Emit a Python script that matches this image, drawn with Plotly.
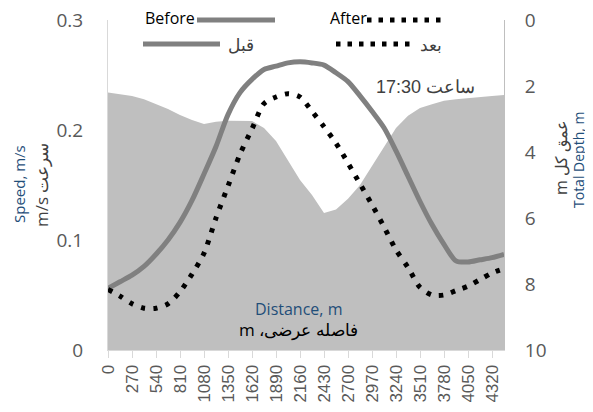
import plotly.graph_objects as go

# ---------------- data ----------------
distance = [0, 135, 270, 405, 540, 675, 810, 945, 1080, 1215, 1350, 1485, 1620, 1755,
            1890, 2025, 2160, 2295, 2430, 2565, 2700, 2835, 2970, 3105, 3240, 3375,
            3510, 3645, 3780, 3915, 4050, 4185, 4320, 4455]
tick_labels = [0, 270, 540, 810, 1080, 1350, 1620, 1890, 2160, 2430, 2700, 2970,
               3240, 3510, 3780, 4050, 4320]

speed_before = [0.056, 0.062, 0.068, 0.076, 0.087, 0.100, 0.116, 0.136, 0.160, 0.185,
                0.214, 0.234, 0.246, 0.255, 0.258, 0.261, 0.262, 0.261, 0.259, 0.252,
                0.244, 0.231, 0.217, 0.202, 0.181, 0.158, 0.135, 0.114, 0.096, 0.081,
                0.080, 0.082, 0.084, 0.087]
speed_after = [0.055, 0.049, 0.042, 0.038, 0.038, 0.042, 0.053, 0.069, 0.088, 0.120,
               0.149, 0.178, 0.201, 0.224, 0.230, 0.233, 0.230, 0.217, 0.203, 0.188,
               0.170, 0.151, 0.132, 0.112, 0.091, 0.075, 0.057, 0.050, 0.050, 0.054,
               0.058, 0.064, 0.070, 0.074]
total_depth = [2.20, 2.24, 2.30, 2.40, 2.55, 2.70, 2.88, 3.03, 3.15, 3.08, 3.05, 3.05,
               3.06, 3.27, 3.67, 4.26, 4.85, 5.30, 5.85, 5.74, 5.42, 5.00, 4.42, 3.85,
               3.27, 2.90, 2.67, 2.55, 2.45, 2.40, 2.36, 2.33, 2.30, 2.27]
depth_bottom = [10] * len(distance)   # axis floor for the area fill

speed_ticks = [0, 0.1, 0.2, 0.3]
speed_ticktext = ["0", "0.1", "0.2", "0.3"]
depth_ticks = [0, 2, 4, 6, 8, 10]

# ---------------- layout helpers ----------------
OFF = 8                      # page body margin
W, H = 593 - OFF, 412 - OFF
PL, PR, PT, PB = 108, 504, 20, 350   # plot box in window pixels
ML, MR, MT, MB = PL - OFF, 593 - PR, PT - OFF, 412 - PB
PW, PH = PR - PL, PB - PT


def px(x):
    return (x - PL) / PW


def py(y):
    return (PB - y) / PH


RLE, PDF = "\u202B", "\u202C"
GRAY_TXT = "#595959"
BLUE_TXT = "#1F4E79"
CAL = "Open Sans, Lato, sans-serif"
ARI = "Liberation Sans, Arial, sans-serif"

fig = go.Figure()

# depth area on primary (right) axis so speed lines draw above it
fig.add_trace(go.Scatter(x=distance, y=depth_bottom, yaxis="y", mode="lines",
                         line=dict(width=0), hoverinfo="skip", showlegend=False))
fig.add_trace(go.Scatter(x=distance, y=total_depth, yaxis="y", mode="lines",
                         line=dict(width=0, color="#BFBFBF"), fill="tonexty",
                         fillcolor="#BFBFBF", showlegend=False))
fig.add_trace(go.Scatter(x=distance, y=speed_before, yaxis="y2", mode="lines",
                         line=dict(color="#808080", width=5, shape="spline", smoothing=0.8),
                         showlegend=False))
fig.add_trace(go.Scatter(x=distance, y=speed_after, yaxis="y2", mode="lines",
                         line=dict(color="#000000", width=5, shape="spline", smoothing=0.8,
                                   dash="4.5px,8px"),
                         showlegend=False))

annotations = [
    dict(text="Speed, m/s", x=px(19), y=py(184), textangle=-90,
         font=dict(family=CAL, size=15, color=BLUE_TXT)),
    dict(text=RLE + "سرعت m/s" + PDF, x=px(41), y=py(185), textangle=-90,
         font=dict(family=CAL, size=17, color="#404040")),
    dict(text=RLE + "عمق کل m" + PDF, x=px(561), y=py(158), textangle=-90,
         font=dict(family=CAL, size=16, color="#404040")),
    dict(text="Total Depth, m", x=px(579), y=py(160), textangle=-90,
         font=dict(family=CAL, size=14, color=BLUE_TXT)),
    dict(text="Distance, m", x=px(298), y=py(309),
         font=dict(family=CAL, size=16, color=BLUE_TXT)),
    dict(text=RLE + "فاصله عرضی، m" + PDF, x=px(298), y=py(329),
         font=dict(family=CAL, size=17, color="#000000")),
    dict(text=RLE + "ساعت 17:30" + PDF, x=px(425), y=py(87),
         font=dict(family=ARI, size=18, color="#404040")),
    # legend texts
    dict(text="Before", x=px(143), y=py(18), xanchor="left",
         font=dict(family=CAL, size=16, color="#000000")),
    dict(text="قبل", x=px(226), y=py(44), xanchor="left",
         font=dict(family=CAL, size=17, color="#404040")),
    dict(text="After", x=px(328), y=py(18), xanchor="left",
         font=dict(family=CAL, size=16, color="#000000")),
    dict(text="بعد", x=px(418), y=py(44), xanchor="left",
         font=dict(family=CAL, size=17, color="#404040")),
]
for a in annotations:
    a.setdefault("xanchor", "center")
    a.update(xref="paper", yref="paper", showarrow=False, yanchor="middle")

shapes = [
    dict(type="line", xref="paper", yref="paper", x0=px(197), x1=px(275), y0=py(20), y1=py(20),
         line=dict(color="#808080", width=5)),
    dict(type="line", xref="paper", yref="paper", x0=px(143), x1=px(220), y0=py(44), y1=py(44),
         line=dict(color="#808080", width=5)),
    dict(type="line", xref="paper", yref="paper", x0=px(367), x1=px(442), y0=py(20), y1=py(20),
         line=dict(color="#000000", width=5, dash="4.5px,7px")),
    dict(type="line", xref="paper", yref="paper", x0=px(336), x1=px(410), y0=py(44), y1=py(44),
         line=dict(color="#000000", width=5, dash="4.5px,7px")),
]

fig.update_layout(
    width=W, height=H,
    margin=dict(l=ML, r=MR, t=MT, b=MB, autoexpand=False),
    paper_bgcolor="white", plot_bgcolor="white",
    showlegend=False,
    annotations=annotations, shapes=shapes,
    xaxis=dict(range=[0, 4455], tickvals=tick_labels, ticktext=[str(v) for v in tick_labels],
               tickangle=-90, ticks="outside", ticklen=7, tickcolor="#D9D9D9",
               showline=True, linecolor="#D9D9D9", linewidth=1, showgrid=False,
               zeroline=False, tickfont=dict(family=ARI, size=17, color=GRAY_TXT),
               automargin=False, ticklabeloverflow="allow"),
    yaxis=dict(range=[10, 0], tickvals=depth_ticks, side="right",
               showline=True, linecolor="#BFBFBF", showgrid=False, zeroline=False,
               ticks="", ticklabelstandoff=16, ticklabeloverflow="allow",
               tickfont=dict(family=CAL, size=19, color=GRAY_TXT), automargin=False),
    yaxis2=dict(range=[0, 0.3], tickvals=speed_ticks, ticktext=speed_ticktext,
                overlaying="y", side="left",
                showline=True, linecolor="#D9D9D9", showgrid=False, zeroline=False,
                ticks="", ticklabelstandoff=20, ticklabeloverflow="allow",
                tickfont=dict(family=CAL, size=19, color=GRAY_TXT), automargin=False),
)

fig.write_html("out.html")
